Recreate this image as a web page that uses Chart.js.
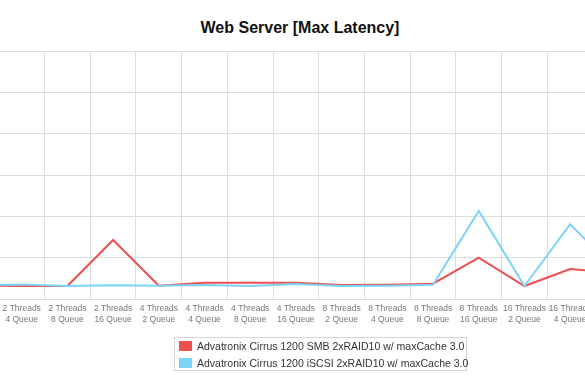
<!DOCTYPE html>
<html>
<head>
<meta charset="utf-8">
<script src="https://cdn.jsdelivr.net/npm/chart.js@4/dist/chart.umd.min.js"></script>
<style>
  body { margin: 0; width: 585px; height: 390px; overflow: hidden; position: relative; background: #fff; font-family: "Liberation Sans", Arial, sans-serif; }
  #title { position: absolute; left: 0; width: 600px; top: 19px; text-align: center; font-weight: bold; font-size: 16px; color: #111; }
  #chart { position: absolute; left: -48px; top: 0; }
  #legend { position: absolute; left: 174px; top: 337px; width: 291px; height: 32px; border: 1px solid #d4d4d4; font-size: 10.5px; color: #333; }
  #legend div { height: 17px; line-height: 17px; white-space: nowrap; }
  #legend span { display: inline-block; width: 13px; height: 10px; margin: 0 5px 0 4px; vertical-align: -1px; }
</style>
</head>
<body>
<div id="title">Web Server [Max Latency]</div>
<canvas id="chart" width="736" height="390"></canvas>
<div id="legend"></div>
<script>
// categories (threads / queue depth)
let threads = ["2", "2", "2", "2", "4", "4", "4", "4", "8", "8", "8", "8", "16", "16", "16", "16"]
let queues = ["2", "4", "8", "16", "2", "4", "8", "16", "2", "4", "8", "16", "2", "4", "8", "16"]

// max latency (ms)
let smb = [163, 157, 157, 714, 161, 197, 197, 197, 169, 173, 185, 500, 157, 363, 315, 400]
let iscsi = [169, 175, 157, 167, 161, 169, 157, 181, 157, 161, 173, 1065, 157, 904, 351, 593]

let seriesNames = ["Advatronix Cirrus 1200 SMB 2xRAID10 w/ maxCache 3.0",
    "Advatronix Cirrus 1200 iSCSI 2xRAID10 w/ maxCache 3.0"]
let seriesColors = ["#ef4f4f", "#7ad4f6"]

let yMax = 3000
let yStep = 500

let labels = threads.map(function (t, i) {
    return [t + " Threads", queues[i] + " Queue"]
})

var ctx = document.getElementById("chart")
var chart = new Chart(ctx, {
    type: 'line',
    data: {
        labels: labels,
        datasets: [{
            label: seriesNames[0],
            data: smb,
            borderColor: seriesColors[0],
            backgroundColor: seriesColors[0],
            order: 2
        }, {
            label: seriesNames[1],
            data: iscsi,
            borderColor: seriesColors[1],
            backgroundColor: seriesColors[1],
            order: 1
        }]
    },
    options: {
        responsive: false,
        animation: false,
        devicePixelRatio: 1,
        layout: { padding: { top: 51, bottom: 51, left: 0, right: 0 } },
        elements: {
            line: { borderWidth: 2, tension: 0 },
            point: { radius: 0 }
        },
        plugins: {
            legend: { display: false },
            title: { display: false },
            tooltip: { enabled: false }
        },
        scales: {
            x: {
                offset: true,
                grid: { offset: true, color: '#dedede', drawTicks: false },
                border: { color: '#dedede' },
                ticks: {
                    autoSkip: false,
                    maxRotation: 0,
                    padding: 5,
                    color: '#777',
                    font: { family: 'Liberation Sans', size: 8.5, lineHeight: 1.2 }
                },
                afterFit: function (s) { s.height = 40 }
            },
            y: {
                min: 0,
                max: yMax,
                ticks: { display: false, stepSize: yStep },
                grid: { color: '#dedede', drawTicks: false },
                border: { display: false },
                afterFit: function (s) { s.width = 0 }
            }
        }
    }
});

// legend box
let legend = document.getElementById("legend")
seriesNames.forEach(function (name, i) {
    let row = document.createElement("div")
    let sw = document.createElement("span")
    sw.style.background = seriesColors[i]
    row.appendChild(sw)
    row.appendChild(document.createTextNode(name))
    legend.appendChild(row)
})
</script>
</body>
</html>
